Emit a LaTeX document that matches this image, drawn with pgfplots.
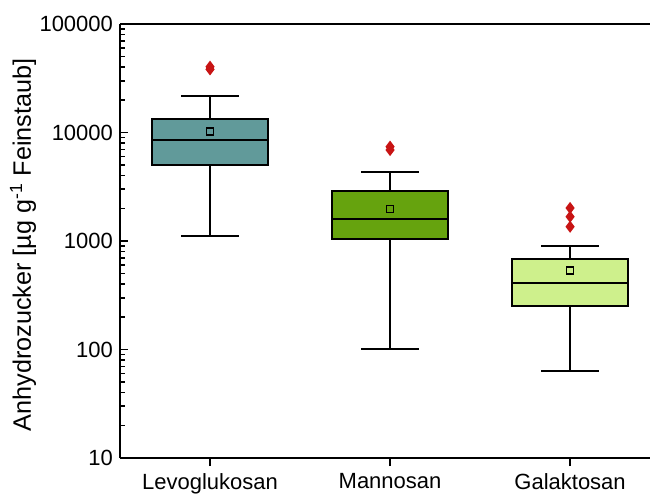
\documentclass[border=0pt]{standalone}
\usepackage{fontspec}
\setmainfont{Liberation Sans}
\usepackage{pgfplots}
\pgfplotsset{compat=1.18}
\usepgfplotslibrary{statistics}
\definecolor{levo}{RGB}{97,154,154}
\definecolor{manno}{RGB}{102,163,14}
\definecolor{galak}{RGB}{206,240,140}
\definecolor{outl}{RGB}{200,20,20}
\begin{document}
\begin{tikzpicture}
\begin{axis}[name=ax,
  scale only axis, width=265pt, height=217pt,
  ymode=log, ymin=10, ymax=100000,
  xmin=0.5, xmax=3.444,
  axis x line*=box, axis y line*=left,
  axis line style={line width=1pt, black},
  xtick={1,2,3}, xticklabels={Levoglukosan,Mannosan,Galaktosan},
  ytick={10,100,1000,10000,100000}, yticklabels={10,100,1000,10000,100000},
  tick pos=left,
  ytick align=inside, xtick align=outside,
  major tick length=4pt, minor tick length=2.5pt,
  tick style={black, line width=0.8pt},
  ticklabel style={font=\fontsize{11}{13}\selectfont},
  every axis y label/.style={at={(axis description cs:-0.183,0.491)}, rotate=90, anchor=center, font=\fontsize{12.6}{15}\selectfont},
  ylabel={Anhydrozucker [µg g\textsuperscript{-1} Feinstaub]},
  boxplot/draw direction=y,
  boxplot/box extend=0.644,
  boxplot/whisker extend=0.32,
  boxplot/every box/.style={/tikz/line width=0.8pt},
  boxplot/every median/.style={/tikz/line width=1.1pt, /tikz/draw=black},
  boxplot/every whisker/.style={/tikz/line width=0.8pt},
  boxplot/every average/.style={/tikz/mark=square, /tikz/mark size=1.8pt, /tikz/mark options={draw=black, fill=none}},
]
\addplot[draw=black, fill=levo, line width=0.8pt, mark=diamond*, mark size=2.4pt,
  mark options={draw=outl, fill=outl},
  boxplot prepared={draw position=1, lower whisker=1112, lower quartile=5050,
    median=8530, upper quartile=13320, upper whisker=21800, average=10180}]
  table[row sep=\\, y index=0] {38200\\ 40400\\};
\addplot[draw=black, fill=manno, line width=0.8pt, mark=diamond*, mark size=2.4pt,
  mark options={draw=outl, fill=outl},
  boxplot prepared={draw position=2, lower whisker=101.6, lower quartile=1038,
    median=1585, upper quartile=2890, upper whisker=4300, average=1972}]
  table[row sep=\\, y index=0] {6900\\ 7400\\};
\addplot[draw=black, fill=galak, line width=0.8pt, mark=diamond*, mark size=2.4pt,
  mark options={draw=outl, fill=outl},
  boxplot prepared={draw position=3, lower whisker=63, lower quartile=252,
    median=413, upper quartile=687, upper whisker=899, average=537}]
  table[row sep=\\, y index=0] {1355\\ 1675\\ 2015\\};
\end{axis}
\pgfresetboundingbox
\path[use as bounding box] ([xshift=-60pt,yshift=-19pt]ax.south west) rectangle ([yshift=12pt]ax.north east);
\end{tikzpicture}
\end{document}
